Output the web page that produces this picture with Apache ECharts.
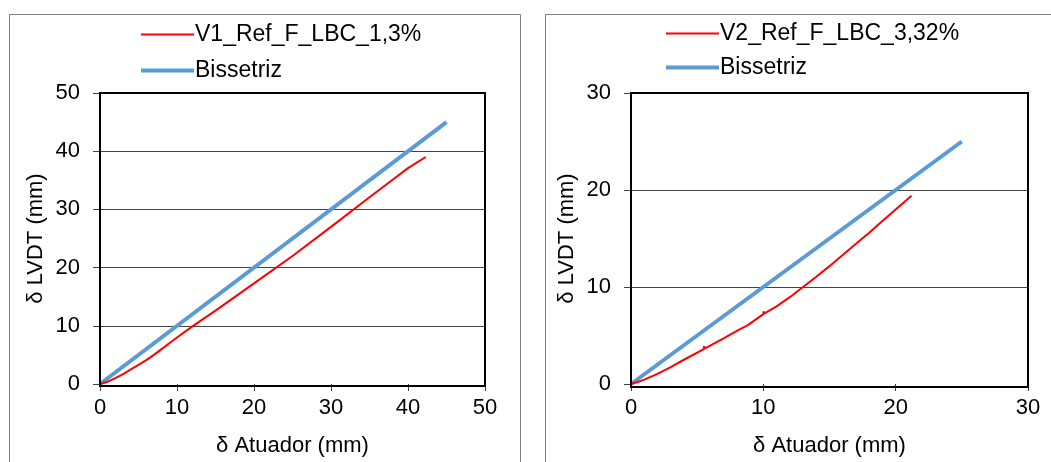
<!DOCTYPE html>
<html><head><meta charset="utf-8">
<script src="https://cdn.jsdelivr.net/npm/echarts@6/dist/echarts.min.js"></script>
<style>html,body{margin:0;padding:0;background:#fff}#c{width:1051px;height:462px}</style>
</head><body><div id="c"></div>
<script>
// Left chart data
const v1Name = 'V1_Ref_F_LBC_1,3%';
const v1Data = [[0,0],[1,0.4],[2,1.0],[3,1.7],[4,2.5],[5,3.3],[6,4.1],[7,5.0],[8,6.0],[9,7.0],[10,8.0],[12,9.9],[15,12.6],[20,17.3],[25,22.0],[30,27.0],[35,32.1],[38,35.1],[40,37.1],[42.3,39.0]];
const bis1Data = [[0,0],[45,45]];
// Right chart data
const v2Name = 'V2_Ref_F_LBC_3,32%';
const v2Data = [[0,0],[0.5,0.2],[1,0.45],[2,1.05],[3,1.75],[4,2.5],[5.5,3.6],[5.52,3.9],[5.56,3.65],[7,4.7],[8.1,5.55],[8.12,5.75],[8.16,5.6],[8.8,6.05],[8.82,6.25],[8.86,6.1],[10,7.2],[10.02,7.5],[10.06,7.25],[11,8.0],[12,8.95],[13,10],[14,11.05],[15,12.15],[16,13.3],[17,14.45],[18,15.6],[19,16.8],[20,18.0],[21.2,19.4]];
const bis2Data = [[0,0],[25,25]];
const bisName = 'Bissetriz';
const xTitle = 'δ Atuador (mm)';
const yTitle = 'δ LVDT (mm)';

const FONT = '"Liberation Sans", Arial, sans-serif';
const RED = '#FF0000', BLUE = '#5B9BD5';

function xAxis(idx, max, interval){
  return {type:'value', gridIndex:idx, min:0, max:max, interval:interval,
    name:xTitle, nameLocation:'middle', nameGap:51,
    nameTextStyle:{fontFamily:FONT, fontSize:22, color:'#000'},
    axisLine:{show:false},
    axisTick:{show:true, length:7, lineStyle:{color:'#404040', width:1}},
    axisLabel:{fontFamily:FONT, fontSize:22, color:'#000', margin:13},
    splitLine:{show:false}};
}
function yAxis(idx, max, interval){
  return {type:'value', gridIndex:idx, min:0, max:max, interval:interval,
    name:yTitle, nameLocation:'middle', nameGap:53,
    nameTextStyle:{fontFamily:FONT, fontSize:22, color:'#000'},
    axisLine:{show:false},
    axisTick:{show:true, length:7, lineStyle:{color:'#404040', width:1}},
    axisLabel:{fontFamily:FONT, fontSize:22, color:'#000', margin:20},
    splitLine:{show:true, showMaxLine:false, showMinLine:false, lineStyle:{color:'#444', width:1}}};
}
function leg(name, x, y, h){
  return {data:[name], left:x, top:y, itemWidth:53, itemHeight:h, icon:'rect',
    textStyle:{fontFamily:FONT, fontSize:23, color:'#000', padding:[0,0,0,-4]}};
}
const G1 = {left:100, right:566, top:93, bottom:76};
const G2 = {left:631, right:23, top:93, bottom:75};
function frame(g){
  return {type:'rect', z:100, silent:true,
    shape:{x:g.left, y:g.top, width:1051-g.left-g.right, height:462-g.top-g.bottom},
    style:{fill:'none', stroke:'#000', lineWidth:2}};
}
const chart = echarts.init(document.getElementById('c'), null, {renderer:'canvas'});
chart.setOption({
  animation:false,
  backgroundColor:'#fff',
  graphic:[
    {type:'rect', shape:{x:9.5, y:14.5, width:511, height:460}, style:{fill:'none', stroke:'#7f7f7f', lineWidth:1}, z:-10},
    {type:'rect', shape:{x:545.5, y:14.5, width:520, height:460}, style:{fill:'none', stroke:'#7f7f7f', lineWidth:1}, z:-10},
    frame(G1), frame(G2)
  ],
  legend:[
    leg(v1Name, 136, 18, 2),
    leg(bisName, 136, 54, 4),
    leg(v2Name, 661, 17, 2),
    leg(bisName + ' ', 661, 51, 4)
  ],
  grid:[
    Object.assign({show:false}, G1),
    Object.assign({show:false}, G2)
  ],
  xAxis:[xAxis(0,50,10), xAxis(1,30,10)],
  yAxis:[yAxis(0,50,10), yAxis(1,30,10)],
  series:[
    {name:bisName, type:'line', xAxisIndex:0, yAxisIndex:0, data:bis1Data, showSymbol:false, lineStyle:{color:BLUE, width:4}, itemStyle:{color:BLUE}},
    {name:v1Name, type:'line', xAxisIndex:0, yAxisIndex:0, data:v1Data, showSymbol:false, lineStyle:{color:RED, width:2}, itemStyle:{color:RED}, z:3},
    {name:bisName + ' ', type:'line', xAxisIndex:1, yAxisIndex:1, data:bis2Data, showSymbol:false, lineStyle:{color:BLUE, width:4}, itemStyle:{color:BLUE}},
    {name:v2Name, type:'line', xAxisIndex:1, yAxisIndex:1, data:v2Data, showSymbol:false, lineStyle:{color:RED, width:2}, itemStyle:{color:RED}, z:3}
  ]
});
</script></body></html>
